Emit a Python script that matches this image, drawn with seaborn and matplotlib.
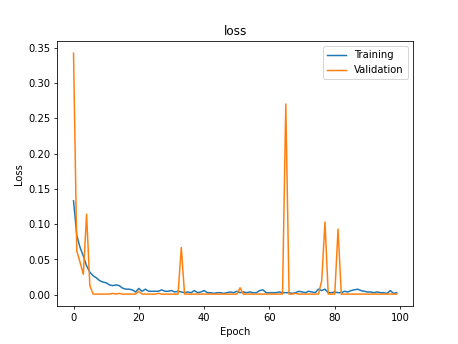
import numpy as np
import pandas as pd
import matplotlib
matplotlib.use("Agg")
import matplotlib.pyplot as plt
import seaborn as sns

epochs = np.arange(100)

training = [
    0.133, 0.084, 0.067, 0.055, 0.041, 0.032, 0.027, 0.024, 0.020, 0.018,
    0.017, 0.014, 0.013, 0.014, 0.013, 0.0095, 0.008, 0.008, 0.007, 0.004,
    0.009, 0.005, 0.008, 0.005, 0.005, 0.005, 0.005, 0.007, 0.005, 0.005,
    0.006, 0.004, 0.005, 0.004, 0.003, 0.004, 0.003, 0.006, 0.003, 0.004,
    0.006, 0.003, 0.003, 0.002, 0.003, 0.003, 0.002, 0.003, 0.004, 0.003,
    0.005, 0.003, 0.004, 0.003, 0.004, 0.003, 0.003, 0.006, 0.007, 0.003,
    0.003, 0.003, 0.003, 0.004, 0.003, 0.003, 0.003, 0.002, 0.003, 0.005,
    0.004, 0.003, 0.005, 0.004, 0.003, 0.008, 0.006, 0.008, 0.003, 0.003,
    0.004, 0.003, 0.003, 0.005, 0.004, 0.006, 0.007, 0.008, 0.006, 0.005,
    0.004, 0.004, 0.003, 0.004, 0.003, 0.003, 0.002, 0.006, 0.002, 0.003,
]

validation = [
    0.342, 0.062, 0.046, 0.029, 0.114, 0.013, 0.001, 0.001, 0.001, 0.001,
    0.001, 0.001, 0.002, 0.001, 0.002, 0.001, 0.001, 0.001, 0.001, 0.001,
    0.005, 0.001, 0.001, 0.001, 0.001, 0.001, 0.002, 0.001, 0.001, 0.001,
    0.001, 0.001, 0.001, 0.067, 0.001, 0.001, 0.001, 0.001, 0.001, 0.001,
    0.001, 0.001, 0.001, 0.001, 0.001, 0.001, 0.001, 0.001, 0.001, 0.001,
    0.001, 0.010, 0.001, 0.001, 0.001, 0.001, 0.001, 0.001, 0.001, 0.001,
    0.001, 0.001, 0.001, 0.001, 0.001, 0.270, 0.001, 0.001, 0.002, 0.001,
    0.001, 0.001, 0.001, 0.001, 0.001, 0.001, 0.020, 0.103, 0.001, 0.001,
    0.001, 0.093, 0.001, 0.001, 0.001, 0.001, 0.001, 0.001, 0.001, 0.001,
    0.001, 0.001, 0.001, 0.001, 0.001, 0.001, 0.001, 0.001, 0.001, 0.001,
]

fig, ax = plt.subplots(figsize=(6.4, 4.8), dpi=71.7)
sns.lineplot(x=epochs, y=training, label="Training", ax=ax, color="tab:blue")
sns.lineplot(x=epochs, y=validation, label="Validation", ax=ax, color="tab:orange")
ax.set_title("loss")
ax.set_xlabel("Epoch")
ax.set_ylabel("Loss")
ax.legend(loc="upper right")
fig.savefig("out.png", dpi=71.7)
